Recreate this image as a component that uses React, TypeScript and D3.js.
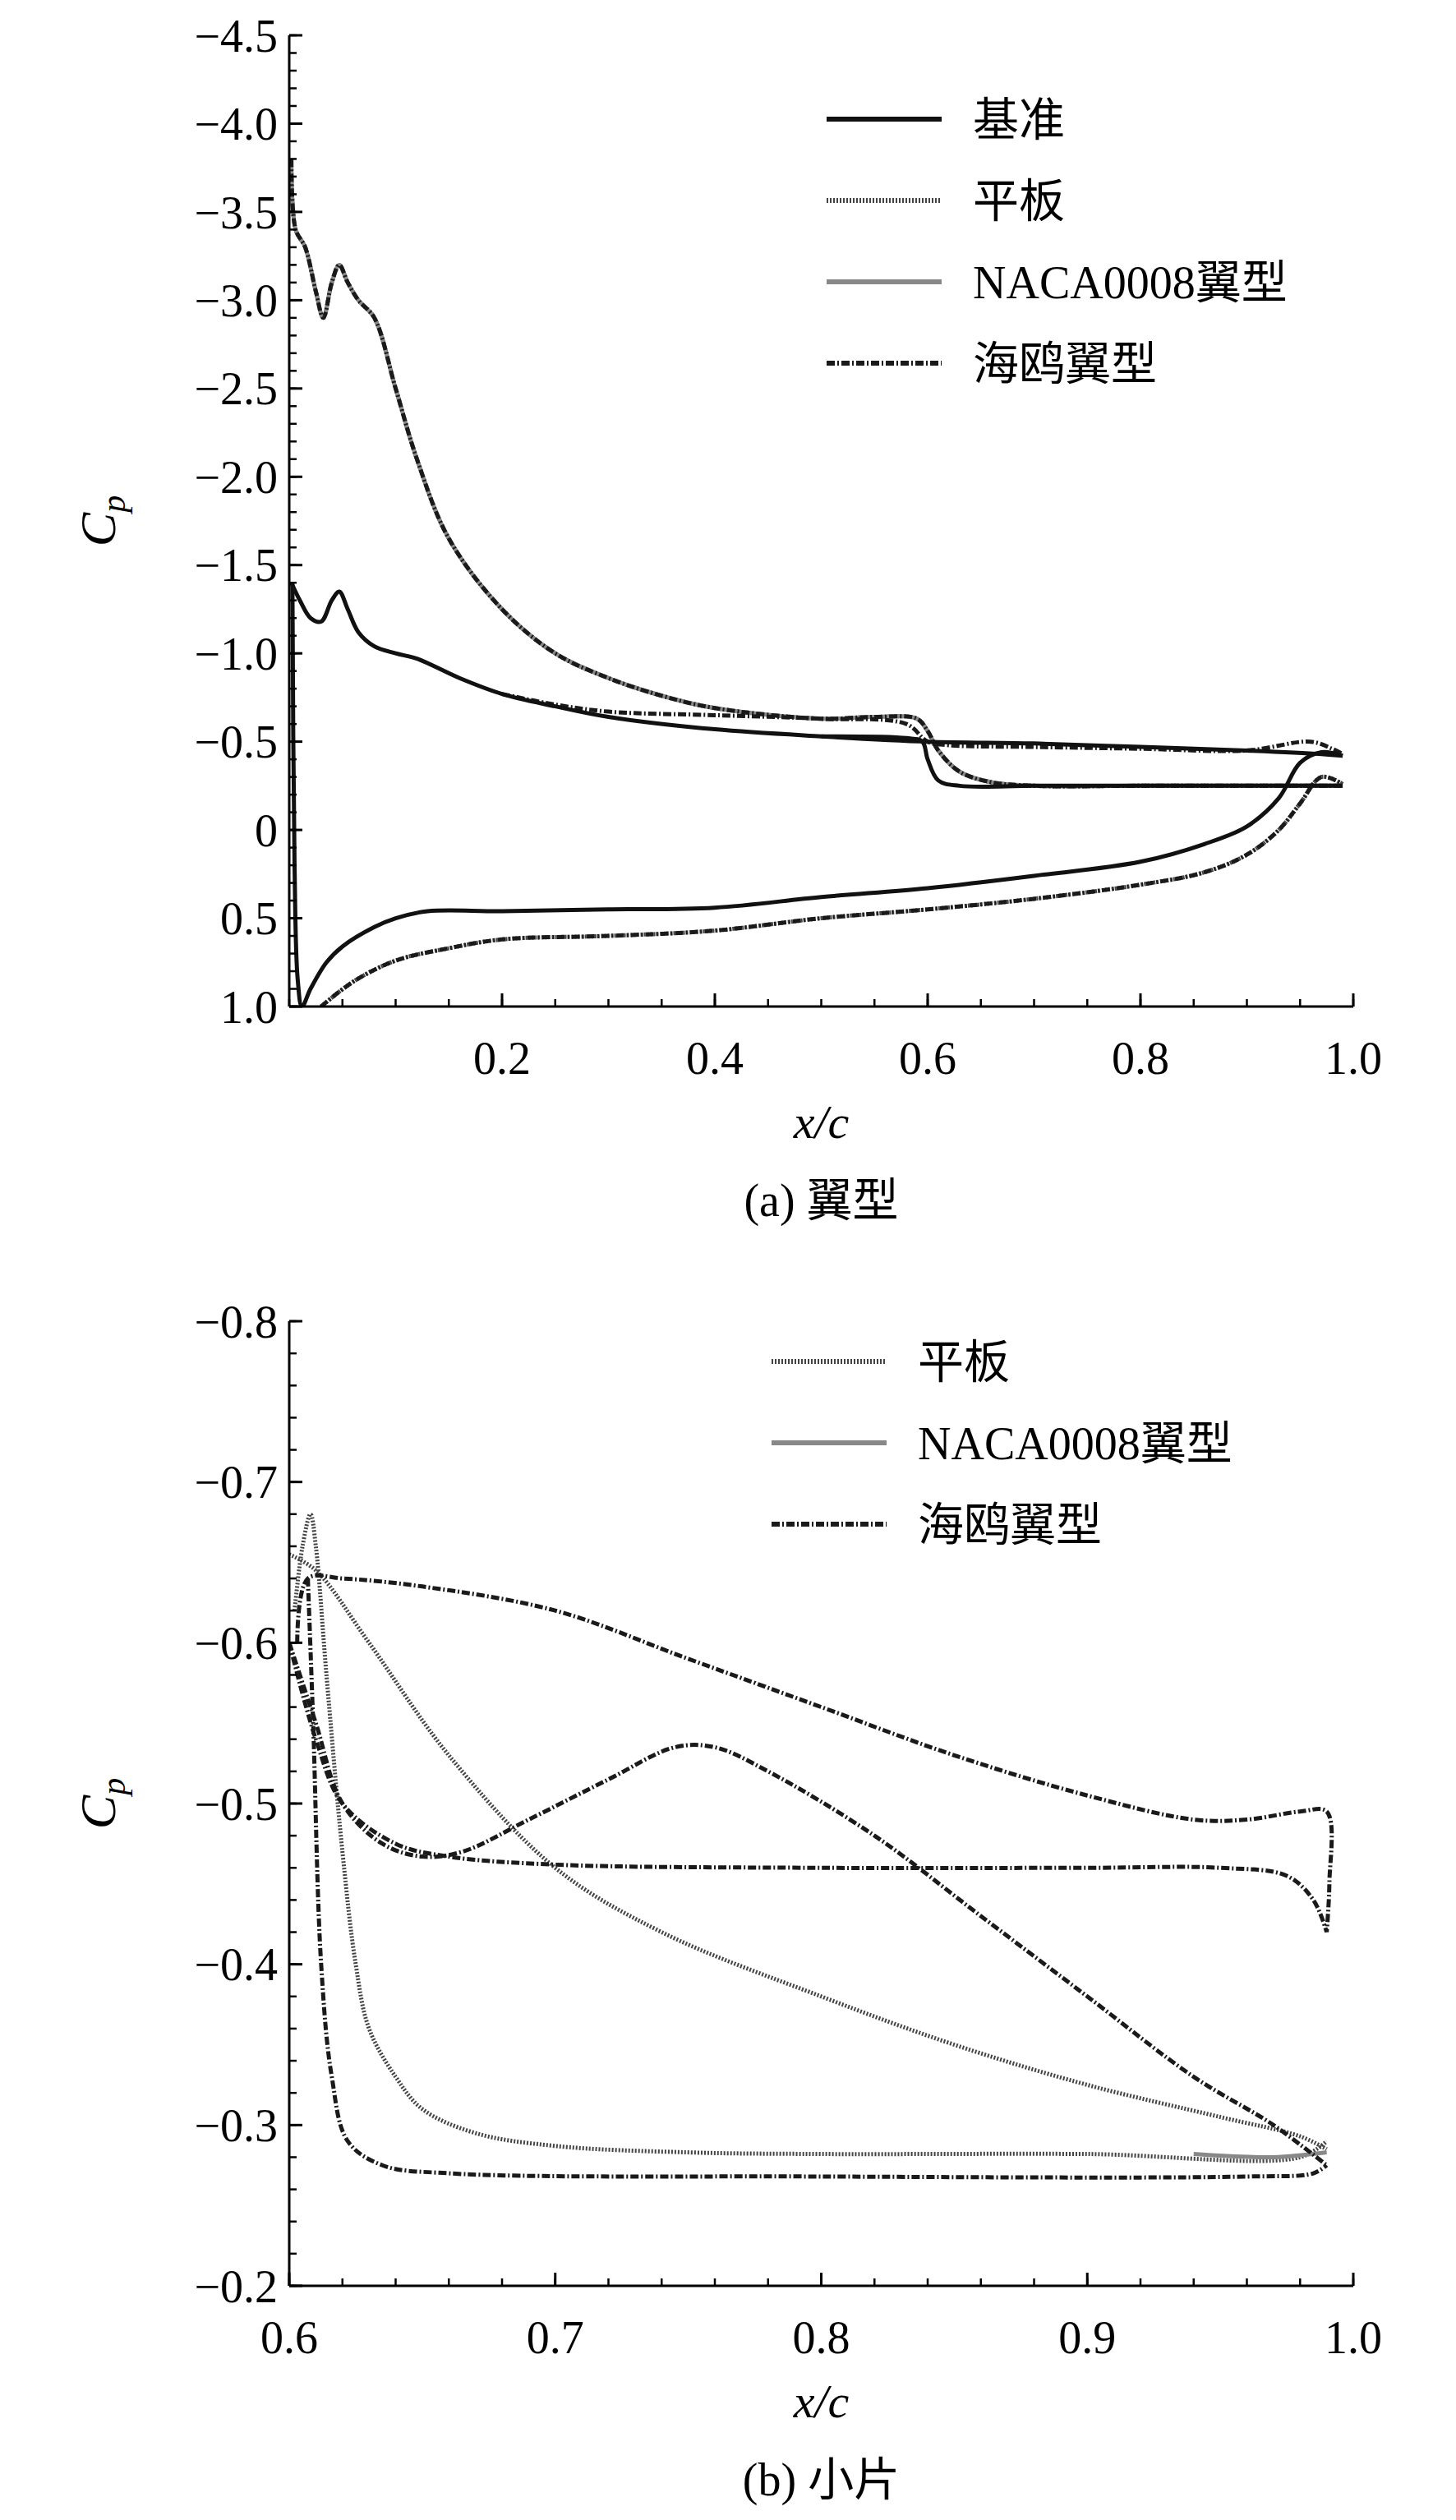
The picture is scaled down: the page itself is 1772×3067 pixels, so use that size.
import React from "react";
import * as d3 from "d3";

type Pt = [number, number];

// ---- panel (a) data ----
const baseUpper: Pt[] = [[0.002,-1.4],[0.01,-1.3],[0.02,-1.2],[0.03,-1.18],[0.04,-1.3],[0.047,-1.35],[0.055,-1.25],[0.065,-1.12],[0.08,-1.04],[0.1,-1.0],[0.12,-0.97],[0.16,-0.86],[0.2,-0.77],[0.25,-0.7],[0.3,-0.64],[0.4,-0.57],[0.5,-0.53],[0.6,-0.5],[0.7,-0.49],[0.8,-0.47],[0.9,-0.45],[0.97,-0.43],[0.99,-0.42]];
const baseStep: Pt[] = [[0.5,-0.53],[0.58,-0.52],[0.595,-0.5],[0.6,-0.4],[0.61,-0.28],[0.63,-0.25],[0.7,-0.25],[0.8,-0.25],[0.9,-0.25],[0.99,-0.25]];
const baseLower: Pt[] = [[0.003,-1.4],[0.005,0.2],[0.008,0.85],[0.012,1.0],[0.02,0.9],[0.035,0.75],[0.05,0.66],[0.08,0.55],[0.1,0.5],[0.13,0.46],[0.2,0.46],[0.3,0.45],[0.4,0.44],[0.5,0.38],[0.6,0.33],[0.7,0.26],[0.8,0.18],[0.86,0.08],[0.9,-0.02],[0.93,-0.18],[0.95,-0.38],[0.97,-0.44],[0.99,-0.42]];
const baseLower2: Pt[] = [[0.03,1.0],[0.06,0.86],[0.1,0.74],[0.15,0.67],[0.2,0.62],[0.3,0.6],[0.4,0.57],[0.5,0.5],[0.6,0.45],[0.7,0.39],[0.8,0.31],[0.86,0.24],[0.9,0.14],[0.93,0.0],[0.95,-0.15],[0.97,-0.3],[0.99,-0.26]];
const highUpper: Pt[] = [[0.002,-3.8],[0.006,-3.4],[0.015,-3.3],[0.025,-3.05],[0.032,-2.9],[0.04,-3.1],[0.047,-3.2],[0.055,-3.1],[0.065,-3.0],[0.08,-2.9],[0.1,-2.5],[0.12,-2.1],[0.15,-1.65],[0.2,-1.25],[0.25,-1.0],[0.3,-0.86],[0.35,-0.76],[0.4,-0.69],[0.5,-0.63],[0.55,-0.64],[0.59,-0.63],[0.6,-0.56],[0.61,-0.45],[0.63,-0.33],[0.66,-0.27],[0.7,-0.25],[0.8,-0.25],[0.99,-0.25]];
const gullMid: Pt[] = [[0.2,-0.77],[0.25,-0.71],[0.3,-0.67],[0.4,-0.65],[0.5,-0.63],[0.58,-0.6],[0.6,-0.5],[0.62,-0.48],[0.7,-0.47],[0.8,-0.46],[0.9,-0.45],[0.96,-0.5],[0.98,-0.46],[0.99,-0.43]];

// ---- panel (b) data ----
const plateB1: Pt[] = [[0.602,-0.62],[0.605,-0.66],[0.608,-0.68],[0.61,-0.66],[0.614,-0.58],[0.62,-0.47],[0.625,-0.4],[0.63,-0.36],[0.64,-0.33],[0.65,-0.31],[0.67,-0.295],[0.7,-0.287],[0.75,-0.283],[0.8,-0.282],[0.9,-0.282],[0.98,-0.28],[0.99,-0.29]];
const plateB2: Pt[] = [[0.6,-0.655],[0.61,-0.645],[0.63,-0.6],[0.66,-0.53],[0.7,-0.46],[0.74,-0.42],[0.8,-0.38],[0.85,-0.35],[0.9,-0.325],[0.95,-0.305],[0.98,-0.293],[0.99,-0.285]];
const nacaB: Pt[] = [[0.94,-0.282],[0.97,-0.28],[0.99,-0.283]];
const gullB1: Pt[] = [[0.603,-0.6],[0.607,-0.64],[0.62,-0.64],[0.65,-0.635],[0.7,-0.62],[0.75,-0.59],[0.8,-0.56],[0.85,-0.53],[0.9,-0.505],[0.94,-0.49],[0.96,-0.49],[0.98,-0.495],[0.99,-0.495],[0.991,-0.45],[0.99,-0.42]];
const gullB2: Pt[] = [[0.6,-0.6],[0.61,-0.55],[0.62,-0.5],[0.635,-0.475],[0.65,-0.467],[0.665,-0.47],[0.69,-0.49],[0.72,-0.515],[0.745,-0.535],[0.76,-0.535],[0.78,-0.52],[0.82,-0.48],[0.86,-0.43],[0.9,-0.38],[0.94,-0.33],[0.97,-0.3],[0.99,-0.275]];
const gullB3: Pt[] = [[0.6,-0.6],[0.61,-0.54],[0.62,-0.5],[0.64,-0.475],[0.66,-0.467],[0.7,-0.462],[0.8,-0.46],[0.9,-0.46],[0.95,-0.46],[0.975,-0.455],[0.985,-0.44],[0.99,-0.42]];
const gullB4: Pt[] = [[0.607,-0.64],[0.609,-0.55],[0.612,-0.4],[0.616,-0.33],[0.622,-0.29],[0.635,-0.275],[0.66,-0.27],[0.8,-0.268],[0.96,-0.268],[0.985,-0.27],[0.99,-0.275]];

const yTicksA = [-4.5,-4,-3.5,-3,-2.5,-2,-1.5,-1,-0.5,0,0.5,1];
const xTicksA = [0.2,0.4,0.6,0.8,1.0];
const yTicksB = [-0.8,-0.7,-0.6,-0.5,-0.4,-0.3,-0.2];
const xTicksB = [0.6,0.7,0.8,0.9,1.0];

const legendA = ["基准","平板","NACA0008翼型","海鸥翼型"];
const legendB = ["平板","NACA0008翼型","海鸥翼型"];

const styles: Record<string, { stroke: string; dash?: string; w: number }> = {
  base: { stroke: "#111", w: 5 },
  plate: { stroke: "#444", dash: "2,2", w: 5 },
  naca: { stroke: "#888", w: 5 },
  gull: { stroke: "#1a1a1a", dash: "10,3,2,3", w: 5 },
};

const serif = "'Liberation Serif', 'Times New Roman', serif";
const cjk = "'Noto Sans CJK SC', sans-serif";

function fmt(v: number, dec: number) {
  if (v === 0) return "0";
  const s = Math.abs(v).toFixed(dec);
  return v < 0 ? "\u2212" + s : s;
}

interface PanelProps {
  top: number; bottom: number; x0: number; x1: number;
  xDom: [number, number]; yDom: [number, number];
  xTicks: number[]; yTicks: number[]; xMinor: number; yMinor: number;
  series: { pts: Pt[]; s: string }[];
  legend: string[]; legendKeys: string[]; legX: number; legY: number;
  caption: string;
}

const Panel: React.FC<PanelProps> = (p) => {
  const x = d3.scaleLinear().domain(p.xDom).range([p.x0, p.x1]);
  const y = d3.scaleLinear().domain(p.yDom).range([p.top, p.bottom]);
  const line = d3.line<Pt>().x((d) => x(d[0])).y((d) => y(d[1])).curve(d3.curveCatmullRom);
  const xm = d3.range(p.xDom[0], p.xDom[1] + 1e-9, p.xMinor);
  const ym = d3.range(p.yDom[0], p.yDom[1] + 1e-9, p.yMinor);
  const midY = (p.top + p.bottom) / 2;
  const [capA, ...capB] = p.caption.split(" ");
  return (
    <g>
      <defs>
        <clipPath id={"c" + p.top}><rect x={p.x0} y={p.top} width={p.x1 - p.x0} height={p.bottom - p.top} /></clipPath>
      </defs>
      <g clipPath={`url(#c${p.top})`}>
        {p.series.map((s, i) => {
          const st = styles[s.s];
          return <path key={i} d={line(s.pts) || ""} fill="none" stroke={st.stroke} strokeWidth={st.w} strokeDasharray={st.dash} />;
        })}
      </g>
      <line x1={p.x0} x2={p.x0} y1={p.top} y2={p.bottom} stroke="#000" strokeWidth={3} />
      <line x1={p.x0} x2={p.x1} y1={p.bottom} y2={p.bottom} stroke="#000" strokeWidth={3} />
      {ym.map((v, i) => <line key={"ym" + i} x1={p.x0} x2={p.x0 + 9} y1={y(v)} y2={y(v)} stroke="#000" strokeWidth={2.5} />)}
      {xm.map((v, i) => <line key={"xm" + i} y1={p.bottom} y2={p.bottom - 9} x1={x(v)} x2={x(v)} stroke="#000" strokeWidth={2.5} />)}
      {p.yTicks.map((v) => (
        <g key={"y" + v}>
          <line x1={p.x0} x2={p.x0 + 16} y1={y(v)} y2={y(v)} stroke="#000" strokeWidth={3} />
          <text x={p.x0 - 14} y={y(v)} dy="0.35em" textAnchor="end" fontFamily={serif} fontSize={56}>{fmt(v, 1)}</text>
        </g>
      ))}
      {p.xTicks.map((v) => (
        <g key={"x" + v}>
          <line y1={p.bottom} y2={p.bottom - 16} x1={x(v)} x2={x(v)} stroke="#000" strokeWidth={3} />
          <text x={x(v)} y={p.bottom + 82} textAnchor="middle" fontFamily={serif} fontSize={56}>{fmt(v, 1)}</text>
        </g>
      ))}
      <text transform={`translate(132,${midY}) rotate(-90)`} textAnchor="middle" fontFamily={serif} fontStyle="italic" fontSize={62}>
        C<tspan fontSize={42} dy={12}>p</tspan>
      </text>
      <text x={(p.x0 + p.x1) / 2} y={p.bottom + 160} textAnchor="middle" fontFamily={serif} fontStyle="italic" fontSize={58}>x/c</text>
      <text x={(p.x0 + p.x1) / 2} y={p.bottom + 255} textAnchor="middle" fontSize={56}>
        <tspan fontFamily={serif}>{capA} </tspan><tspan fontFamily={cjk}>{capB.join(" ")}</tspan>
      </text>
      {p.legend.map((t, i) => {
        const st = styles[p.legendKeys[i]];
        const ly = p.legY + i * 99;
        return (
          <g key={t}>
            <line x1={p.legX} x2={p.legX + 140} y1={ly} y2={ly} stroke={st.stroke} strokeWidth={st.w + 1} strokeDasharray={st.dash} />
            <text x={p.legX + 178} y={ly} dy="0.35em" fontSize={56}>
              {t.startsWith("NACA") ? (<><tspan fontFamily={serif}>NACA0008</tspan><tspan fontFamily={cjk}>翼型</tspan></>) : <tspan fontFamily={cjk}>{t}</tspan>}
            </text>
          </g>
        );
      })}
    </g>
  );
};

const App: React.FC = () => (
  <svg width={1772} height={3067} style={{ display: "block", background: "#fff" }}>
    <Panel top={35} bottom={1217} x0={344} x1={1639} xDom={[0, 1]} yDom={[-4.5, 1]}
      xTicks={xTicksA} yTicks={yTicksA} xMinor={0.05} yMinor={0.1}
      series={[
        { pts: highUpper, s: "plate" }, { pts: highUpper, s: "naca" }, { pts: gullMid, s: "gull" }, { pts: highUpper, s: "gull" },
        { pts: baseLower2, s: "plate" }, { pts: baseLower2, s: "gull" },
        { pts: baseUpper, s: "base" }, { pts: baseStep, s: "base" }, { pts: baseLower, s: "base" },
      ]}
      legend={legendA} legendKeys={["base", "plate", "naca", "gull"]} legX={998} legY={137}
      caption="(a) 翼型" />
    <Panel top={1600} bottom={2774} x0={344} x1={1639} xDom={[0.6, 1]} yDom={[-0.8, -0.2]}
      xTicks={xTicksB} yTicks={yTicksB} xMinor={0.02} yMinor={0.02}
      series={[
        { pts: plateB1, s: "plate" }, { pts: plateB2, s: "plate" }, { pts: nacaB, s: "naca" },
        { pts: gullB1, s: "gull" }, { pts: gullB2, s: "gull" }, { pts: gullB3, s: "gull" }, { pts: gullB4, s: "gull" },
      ]}
      legend={legendB} legendKeys={["plate", "naca", "gull"]} legX={931} legY={1649}
      caption="(b) 小片" />
  </svg>
);

export default App;
